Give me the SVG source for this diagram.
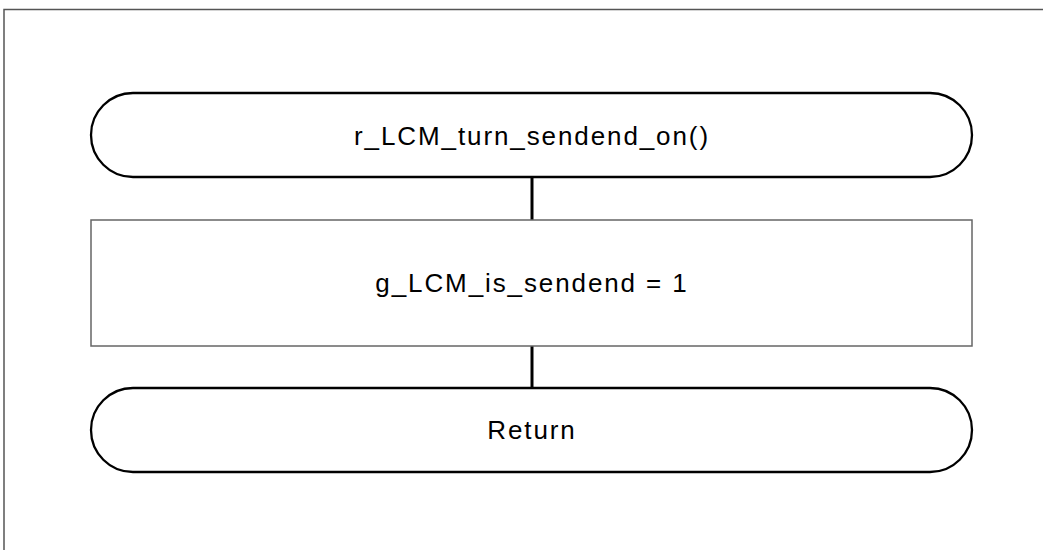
<svg xmlns="http://www.w3.org/2000/svg" width="1043" height="550" viewBox="0 0 1043 550">
<style>
.term{fill:#fff;stroke:#000;stroke-width:2.3}
.proc{fill:#fff;stroke:#666;stroke-width:1.5}
.conn{stroke:#000;stroke-width:3;fill:none}
.lbl{font-family:"Liberation Sans",Arial,sans-serif;font-size:26px;letter-spacing:1.9px;fill:#000;text-anchor:middle}
.frame{fill:none;stroke:#555;stroke-width:1.5}
</style>
<rect width="1043" height="550" fill="#fff"/>
<path class="frame" d="M4,560 V9.5 H1060"/>
<g id="connectors">
<line class="conn" x1="532" y1="177" x2="532" y2="220"/>
<line class="conn" x1="532" y1="346" x2="532" y2="388"/>
</g>
<g id="start">
<rect class="term" x="91" y="93" width="881" height="84" rx="42" ry="42"/>
<text class="lbl" x="532" y="145">r_LCM_turn_sendend_on()</text>
</g>
<g id="assign">
<rect class="proc" x="91" y="220" width="881" height="126"/>
<text class="lbl" x="532" y="292">g_LCM_is_sendend = 1</text>
</g>
<g id="return">
<rect class="term" x="91" y="388" width="881" height="84" rx="42" ry="42"/>
<text class="lbl" x="532" y="439">Return</text>
</g>
</svg>
